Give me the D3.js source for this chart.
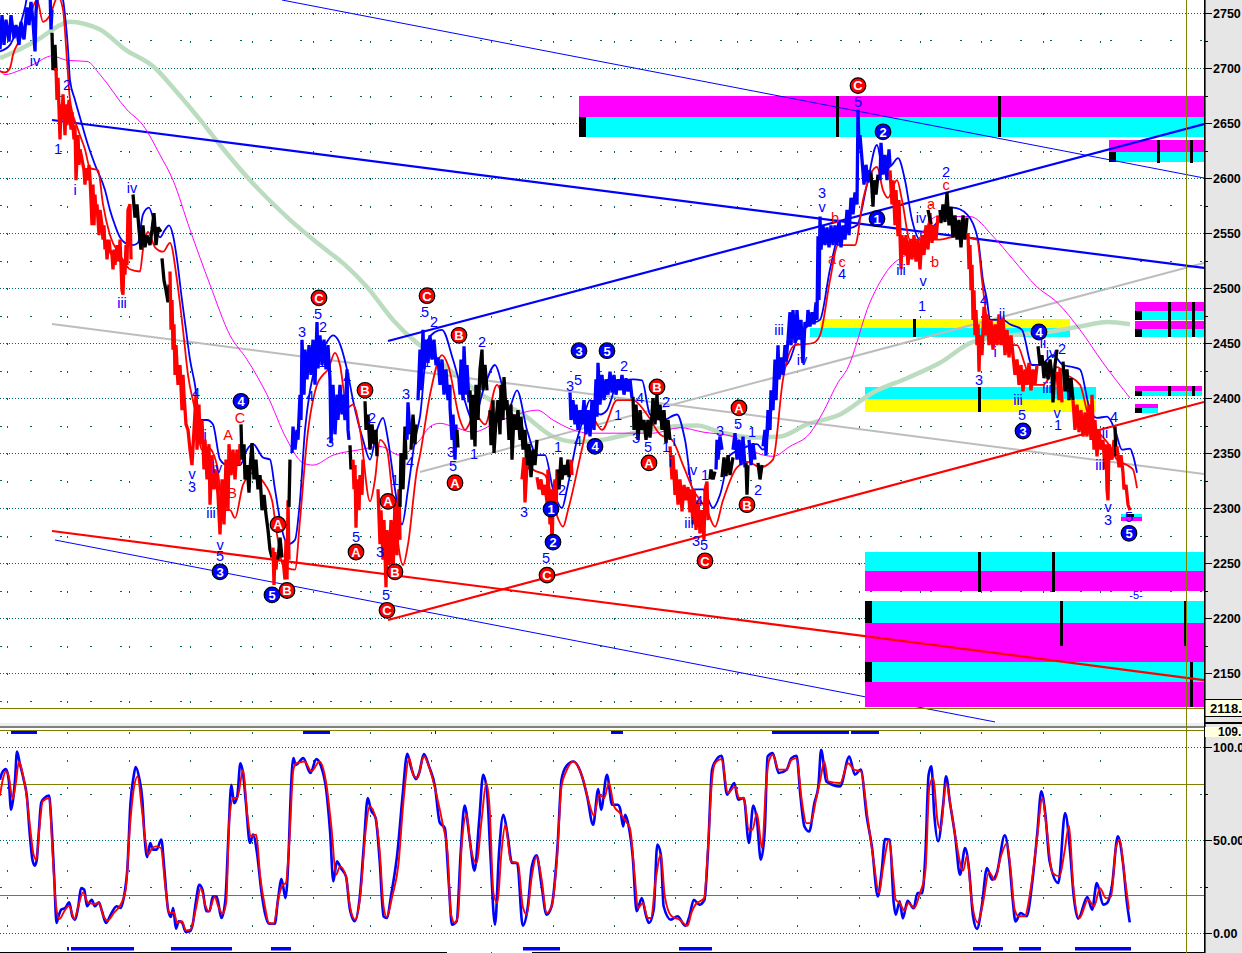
<!DOCTYPE html>
<html><head><meta charset="utf-8">
<style>html,body{margin:0;padding:0;background:#fff;overflow:hidden}svg{display:block}text{font-family:"Liberation Sans",Arial,sans-serif}</style>
<script src="https://cdn.jsdelivr.net/npm/d3@7/dist/d3.min.js"></script></head><body><svg id="c" width="1242" height="953"></svg>
<script>
// ---------- axis values ----------
const priceTicks=[2750,2700,2650,2600,2550,2500,2450,2400,2350,2300,2250,2200,2150];
const priceMinor=[2725,2675,2625,2575,2525,2475,2425,2375,2325,2275,2225,2175,2125];
const oscTicks=[100,50,0], oscLabels=["100.0","50.00","0.00"], oscLevels=[80,20], oscMinor=[75,25];
const gridBars=[7,67,129,190,252,313,370,431,491,553,614,675,737,797,859,920,981,1043,1100];
const cursorBar=1186, lastPrice="2118.", lastOsc="109.";
// ---------- price runs [bar, price] ----------
const blueA=[[0,2717],[2,2748],[4,2721],[6,2744],[9,2724],[11,2748],[14,2727],[16,2739],[19,2721],[21,2742],[24,2726],[27,2755],[29,2739],[31,2760],[33,2742],[35,2715],[36,2751],[38,2771],[50,2771],[51,2735],[52,2753]];
const blackB=[[52,2732],[53,2698],[55,2721],[56,2697]];
const redC=[[56,2700],[57,2671],[58,2691],[60,2635],[61,2667],[62,2653],[63,2676],[65,2639],[66,2667],[67,2648],[69,2671],[71,2644],[72,2660],[74,2635],[75,2648],[76,2598],[78,2639],[79,2612],[80,2626],[82,2617],[84,2607],[85,2594],[86,2609],[88,2598],[89,2612],[90,2600],[91,2580],[92,2557],[93,2594],[94,2557],[95,2585],[96,2567],[97,2576],[99,2548],[100,2571],[102,2557],[103,2544],[104,2557],[105,2535],[106,2544],[107,2526],[109,2544],[110,2535],[112,2530],[113,2517],[114,2535],[115,2521],[117,2539],[119,2524],[120,2544],[122,2498],[123,2494],[124,2526],[125,2512],[126,2539],[127,2521],[128,2571],[130,2576],[131,2526]];
const blackD=[[133,2585],[135,2564],[137,2576],[139,2553],[141,2535],[143,2557],[145,2537],[147,2548],[150,2539],[152,2553],[154,2568],[156,2539],[158,2555],[161,2551]];
const blackD2=[[162,2527],[164,2507],[166,2498],[168,2487],[169,2503]];
const redE=[[170,2515],[171,2462],[172,2489],[173,2444],[174,2467],[175,2421],[176,2448],[178,2412],[180,2430],[182,2389],[183,2421],[184,2403],[186,2376],[188,2371],[190,2353],[192,2339],[194,2371],[196,2403],[197,2353],[199,2394],[200,2358],[202,2380],[204,2335],[205,2362],[207,2326],[209,2358],[210,2303],[212,2348],[214,2317],[216,2335],[218,2312],[220,2276],[222,2326],[224,2285],[226,2344],[228,2298],[229,2358],[231,2330],[233,2353],[235,2326],[237,2353],[239,2339],[240,2358]];
const blackF=[[241,2376],[242,2344],[244,2358],[245,2326],[247,2339],[249,2314],[250,2335],[252,2359],[254,2326],[256,2344],[258,2317],[260,2330],[262,2298],[264,2312],[266,2294],[268,2280],[270,2262],[272,2255]];
const redG=[[273,2264],[274,2230],[275,2260],[276,2244],[277,2257]];
const blackG=[[278,2253],[280,2273],[282,2255]];
const redG2=[[283,2253],[285,2235],[286,2271],[287,2235],[288,2307],[289,2253]];
const blackH=[[289,2301],[290,2344]];
const blueI=[[292,2350],[293,2374],[295,2353],[297,2371],[298,2362],[300,2403],[301,2380],[302,2453],[304,2403],[305,2444],[307,2417],[309,2448],[311,2421],[313,2453],[315,2412],[317,2469],[318,2427],[320,2457],[322,2430],[324,2453],[326,2426],[328,2448],[330,2417],[331,2359],[333,2412],[335,2367],[337,2403],[338,2380],[340,2412],[342,2385],[343,2403],[345,2380],[347,2426],[348,2371],[349,2362]];
const blackJ=[[350,2357],[351,2335]];
const redK=[[353,2344],[354,2317],[355,2339],[356,2282],[357,2326],[359,2298],[360,2330],[362,2312],[363,2344]];
const blackL=[[365,2397],[366,2371],[368,2385],[370,2353],[372,2376],[374,2358],[376,2371],[377,2347]];
const redM=[[378,2317],[380,2267],[381,2298],[383,2253],[384,2289],[386,2228],[387,2280],[389,2248],[391,2289],[393,2239],[395,2307],[397,2257],[399,2317],[400,2271]];
const blackN=[[400,2301],[401,2350],[403,2317],[405,2374],[406,2344]];
const blueO=[[407,2362],[408,2396],[410,2367]];
const blackO=[[411,2353],[413,2385],[415,2358],[416,2376]];
const blueP=[[418,2398],[420,2444],[421,2407],[423,2462],[424,2426],[426,2453],[428,2432],[430,2457],[432,2435],[434,2453],[436,2430],[438,2437],[440,2412],[442,2435],[444,2403],[446,2426],[448,2398],[450,2412],[450,2392],[452,2362],[453,2385],[455,2344],[456,2376]];
const blackQ=[[457,2371],[458,2355]];
const blueR=[[459,2417],[460,2403],[461,2435],[463,2398],[464,2447],[466,2403],[467,2430],[469,2396]];
const blackS=[[470,2407],[472,2362],[473,2403],[475,2356],[476,2412],[478,2380],[480,2426],[482,2444],[483,2407],[485,2430],[487,2407]];
const blackS2=[[490,2389],[491,2357],[493,2398],[494,2350],[496,2380],[498,2398],[500,2367],[501,2412],[503,2380],[504,2419],[506,2389],[507,2398],[509,2362],[511,2394],[512,2344],[514,2385],[516,2371],[518,2389],[520,2362],[521,2383],[523,2353],[525,2371],[527,2335],[529,2358],[531,2328],[533,2353],[535,2339],[537,2362]];
const redS=[[522,2326],[524,2346],[525,2305],[527,2339]];
const redT=[[537,2328],[539,2317],[541,2326],[543,2312],[545,2321],[547,2305],[548,2335],[550,2285],[551,2317],[552,2262],[553,2303],[555,2326],[556,2294],[557,2335]];
const blackU=[[558,2335],[559,2317],[561,2346],[562,2326],[564,2339],[566,2330],[568,2344],[569,2328],[570,2339]];
const redU=[[571,2344],[572,2330]];
const blueV=[[570,2405],[571,2380],[573,2398],[575,2376],[576,2394],[578,2371],[580,2389],[582,2376],[584,2398],[586,2367],[588,2389],[590,2365],[592,2398],[594,2371],[596,2417],[597,2383],[598,2432],[600,2394],[602,2421],[604,2398],[606,2417],[608,2403],[610,2424],[612,2405],[614,2421],[616,2403],[618,2417],[620,2407],[622,2421],[624,2403],[626,2418],[628,2406],[630,2417],[632,2400]];
const blackW=[[633,2401],[634,2371],[636,2394],[638,2362],[640,2389],[642,2371],[644,2380],[646,2362],[648,2380],[650,2364],[652,2385],[653,2400],[655,2376],[657,2403],[658,2380],[660,2394],[662,2371],[664,2389],[666,2359],[668,2380],[670,2362]];
const redX=[[670,2356],[672,2326],[673,2348],[675,2312],[676,2335],[678,2303],[680,2326],[682,2297],[684,2321],[686,2307],[688,2319],[690,2296],[691,2317],[693,2285],[694,2317],[696,2280],[698,2307],[700,2277],[702,2298],[704,2271],[705,2317],[707,2324],[708,2289]];
const blackY=[[710,2326],[711,2335],[713,2326],[715,2333]];
const blueZ=[[716,2335],[717,2362],[718,2344],[720,2365],[722,2353]];
const blackAA=[[722,2328],[724,2346],[726,2329],[728,2348],[730,2330],[733,2346]];
const blueAB=[[733,2353],[735,2368],[737,2344],[739,2362],[741,2339],[743,2365],[745,2337]];
const blackAC=[[746,2341],[747,2312],[748,2339]];
const blueAD=[[749,2362],[751,2339],[753,2359],[755,2344]];
const blackAE=[[758,2341],[760,2326],[762,2339]];
const blueAF=[[763,2356],[765,2371],[766,2348],[768,2389],[770,2371],[771,2407],[773,2389],[775,2435],[776,2398],[778,2448],[779,2417],[781,2437],[783,2421],[785,2448],[786,2433],[788,2453],[790,2478],[791,2448],[793,2480],[795,2450],[797,2480],[799,2453],[801,2471],[803,2432],[805,2469],[807,2465],[808,2480],[810,2465],[812,2478],[814,2467],[816,2487],[817,2471],[818,2547],[819,2489],[820,2565],[821,2535],[823,2557],[825,2539],[827,2555],[829,2537],[831,2557],[833,2539],[835,2557],[837,2539],[839,2562],[841,2537],[843,2557],[845,2544],[847,2571],[849,2548],[851,2582],[853,2567],[855,2587],[857,2576],[858,2662],[859,2626],[860,2639],[862,2617],[864,2594],[866,2612],[868,2596],[870,2607]];
const blackAG=[[871,2605],[873,2574],[874,2598],[876,2585],[878,2603]];
const blueAH=[[880,2598],[881,2632],[883,2603],[885,2621],[887,2598],[889,2626],[890,2612]];
const redAI=[[890,2607],[892,2576],[893,2598],[895,2557],[896,2589],[898,2547],[899,2580],[901,2517],[902,2548],[904,2530],[906,2548],[908,2521],[910,2544],[912,2526],[914,2548],[916,2524],[918,2544],[920,2517],[922,2548],[924,2530],[926,2557],[928,2535],[930,2568],[932,2541],[934,2557],[936,2544],[938,2566]];
const blackAJ=[[928,2571],[931,2558]];
const blackAK=[[940,2571],[941,2559],[943,2576],[945,2560],[947,2587],[949,2557],[951,2574],[953,2546],[955,2566],[957,2544],[959,2562],[961,2537],[963,2566],[965,2544],[967,2564]];
const redAL=[[968,2550],[969,2517],[970,2539],[971,2498],[972,2521],[973,2471],[974,2498],[975,2457],[976,2480],[977,2448],[978,2467],[979,2424],[980,2457],[982,2439],[984,2483],[985,2457],[987,2476],[989,2448],[991,2471],[993,2444],[995,2467],[997,2448],[999,2476],[1001,2448],[1003,2473],[1005,2439],[1007,2462],[1009,2437],[1011,2457],[1013,2439],[1015,2421],[1017,2435],[1019,2412],[1021,2430],[1023,2406],[1025,2426],[1027,2412],[1029,2432],[1031,2407],[1033,2426],[1035,2412],[1037,2430]];
const blackAM=[[1038,2447],[1040,2430],[1042,2439],[1044,2418],[1046,2433],[1048,2417],[1050,2435],[1052,2421],[1053,2396],[1055,2430],[1057,2444]];
const redAN=[[1057,2424],[1059,2398],[1060,2427],[1062,2396]];
const blackAO=[[1063,2433],[1065,2406],[1067,2426],[1069,2398],[1071,2418],[1073,2398]];
const redAP=[[1073,2398],[1075,2371],[1077,2394],[1079,2369],[1081,2389],[1083,2365],[1085,2387],[1087,2365],[1089,2394],[1091,2362],[1092,2403],[1094,2353],[1095,2380],[1097,2347],[1099,2371],[1101,2353],[1103,2362],[1105,2335],[1106,2358],[1107,2317],[1108,2307],[1109,2358],[1112,2344],[1114,2362]];
const blackAQ=[[1115,2374],[1116,2347]];
const redAR=[[1117,2356],[1119,2337],[1121,2348],[1123,2332],[1124,2317],[1126,2321],[1128,2303],[1130,2298]];
const BLUE="#0000ff",RED="#ff0000",BLACK="#000000";
const priceRuns=[[BLUE,blueA],[BLACK,blackB],[RED,redC],[BLACK,blackD],[BLACK,blackD2],[RED,redE],[BLACK,blackF],[RED,redG],[BLACK,blackG],[RED,redG2],[BLACK,blackH],[BLUE,blueI],[BLACK,blackJ],[RED,redK],[BLACK,blackL],[RED,redM],[BLACK,blackN],[BLUE,blueO],[BLACK,blackO],[BLUE,blueP],[BLACK,blackQ],[BLUE,blueR],[BLACK,blackS],[BLACK,blackS2],[RED,redS],[RED,redT],[BLACK,blackU],[RED,redU],[BLUE,blueV],[BLACK,blackW],[RED,redX],[BLACK,blackY],[BLUE,blueZ],[BLACK,blackAA],[BLUE,blueAB],[BLACK,blackAC],[BLUE,blueAD],[BLACK,blackAE],[BLUE,blueAF],[BLACK,blackAG],[BLUE,blueAH],[RED,redAI],[BLACK,blackAJ],[BLACK,blackAK],[RED,redAL],[BLACK,blackAM],[RED,redAN],[BLACK,blackAO],[RED,redAP],[BLACK,blackAQ],[RED,redAR]];
// ---------- envelope and averages ----------
const bandBlue=[[0,2715],[10,2721],[15,2730],[20,2739],[25,2755],[28,2767],[60,2767],[63,2762],[65,2748],[68,2717],[70,2689],[75,2671],[80,2655],[88,2630],[95,2612],[105,2589],[110,2571],[115,2557],[120,2546],[125,2541],[133,2539],[138,2541],[143,2567],[149,2573],[155,2557],[160,2546],[165,2553],[169,2557],[173,2548],[177,2526],[182,2489],[186,2462],[190,2435],[195,2412],[200,2380],[207,2380],[213,2376],[220,2344],[227,2339],[240,2339],[247,2353],[253,2358],[263,2346],[270,2344],[275,2317],[282,2280],[288,2267],[295,2271],[300,2307],[305,2371],[310,2407],[318,2435],[325,2448],[333,2457],[338,2453],[347,2426],[353,2398],[363,2362],[370,2344],[377,2371],[383,2382],[388,2362],[395,2317],[402,2285],[408,2317],[415,2362],[420,2383],[428,2453],[435,2460],[442,2462],[453,2435],[463,2403],[473,2380],[485,2412],[495,2430],[502,2412],[508,2389],[517,2407],[527,2371],[537,2348],[545,2348],[553,2317],[562,2300],[567,2317],[577,2362],[583,2380],[590,2398],[600,2385],[607,2389],[617,2412],[633,2417],[642,2416],[650,2385],[663,2380],[677,2385],[685,2362],[693,2317],[703,2317],[713,2300],[720,2312],[730,2348],[740,2353],[757,2358],[763,2353],[777,2417],[790,2435],[797,2453],[810,2467],[820,2471],[830,2517],[840,2551],[857,2557],[867,2594],[877,2630],[883,2607],[892,2612],[898,2618],[905,2598],[912,2562],[920,2544],[930,2553],[940,2562],[953,2573],[967,2567],[978,2544],[983,2507],[987,2489],[990,2471],[1003,2471],[1010,2467],[1022,2462],[1032,2430],[1040,2430],[1053,2439],[1063,2430],[1073,2428],[1080,2426],[1090,2389],[1097,2382],[1107,2383],[1115,2371],[1122,2353],[1130,2354],[1133,2348],[1137,2332]];
const bandRed=[[0,2697],[5,2696],[10,2700],[13,2712],[20,2726],[30,2748],[37,2762],[43,2742],[50,2748],[58,2765],[63,2753],[67,2707],[70,2671],[78,2644],[85,2626],[90,2609],[98,2607],[103,2576],[110,2548],[120,2530],[130,2517],[140,2515],[143,2535],[148,2551],[155,2537],[163,2533],[170,2541],[177,2507],[183,2462],[188,2421],[195,2389],[202,2353],[208,2355],[217,2339],[223,2298],[230,2298],[235,2291],[243,2321],[253,2332],[263,2324],[272,2307],[277,2276],[283,2248],[295,2244],[300,2289],[307,2362],[317,2412],[323,2421],[328,2426],[335,2441],[340,2430],[347,2391],[353,2394],[360,2371],[370,2306],[375,2326],[380,2362],[387,2353],[393,2307],[403,2248],[408,2267],[417,2335],[420,2348],[430,2403],[442,2439],[448,2430],[460,2380],[465,2371],[475,2385],[485,2376],[497,2412],[507,2389],[520,2380],[533,2335],[545,2330],[555,2298],[563,2283],[568,2298],[583,2358],[590,2385],[602,2371],[617,2398],[633,2398],[647,2385],[660,2367],[672,2362],[683,2339],[693,2317],[707,2298],[715,2283],[723,2307],[737,2337],[748,2342],[760,2337],[773,2344],[783,2417],[795,2448],[813,2450],[820,2457],[830,2507],[838,2539],[855,2539],[863,2580],[877,2610],[883,2589],[888,2582],[897,2598],[902,2580],[910,2544],[923,2544],[940,2544],[957,2547],[977,2544],[982,2507],[987,2471],[993,2453],[1010,2448],[1017,2448],[1025,2430],[1032,2412],[1043,2412],[1057,2428],[1067,2421],[1080,2412],[1088,2385],[1097,2371],[1110,2356],[1117,2344],[1127,2339],[1133,2335],[1137,2318]];
const avgMagenta=[[0,2698],[5,2694],[20,2698],[33,2703],[52,2711],[67,2707],[87,2706],[100,2694],[127,2662],[143,2648],[160,2621],[173,2598],[190,2553],[210,2503],[230,2457],[247,2435],[267,2403],[287,2362],[303,2341],[313,2339],[333,2348],[360,2353],[380,2356],[400,2348],[420,2362],[430,2374],[440,2377],[453,2374],[473,2369],[497,2378],[517,2385],[537,2389],[553,2380],[573,2371],[590,2368],[620,2368],[653,2368],[680,2373],[703,2369],[733,2365],[757,2350],[773,2347],[790,2356],[810,2368],[823,2387],[838,2414],[847,2426],[870,2487],[890,2519],[910,2533],[937,2565],[970,2565],[993,2547],[1013,2526],[1037,2501],[1057,2487],[1080,2462],[1103,2432],[1130,2400]];
const avgGreen=[[0,2709],[20,2717],[40,2727],[60,2739],[70,2742],[85,2740],[100,2735],[125,2717],[155,2700],[175,2680],[200,2653],[220,2630],[250,2598],[290,2562],[320,2539],[345,2521],[367,2501],[393,2471],[417,2450],[430,2441],[453,2423],[487,2400],[520,2387],[553,2365],[577,2360],[603,2362],[633,2368],[673,2374],[697,2375],[720,2369],[753,2364],[780,2365],[807,2376],[840,2385],[873,2405],[907,2418],[940,2432],[973,2451],[1013,2457],[1047,2460],[1080,2465],[1107,2469],[1130,2467]];
// ---------- trend lines [bar, price, bar, price] ----------
const trendBlueThick=[[52,2652.7,1204,2518.2],[388,2451.8,1204,2649]];
const trendBlueThin=[[282,2761.8,1204,2600]];
const trendBlueLow=[[55,2270.9,995,2105.5]];
const trendGray=[[52,2467.3,1204,2330.9],[420,2332.7,1204,2522.7]];
const trendRed=[[52,2279.1,1204,2143.6],[388,2198.2,1204,2396.4]];
// ---------- price zones [bar0, bar1, priceTop, priceBottom] ----------
const zonesMagenta=[[579,1204,2674.5,2655.5],[1109,1204,2634.5,2623.6],[1135,1204,2487.3,2479.1],[1135,1204,2470,2462.7],[1135,1202,2410.9,2406.4],[1135,1158,2394.5,2390.9],[1045,1092,2392.7,2389.1],[1121,1142,2291.8,2288.2],[865,1204,2242.7,2224.5],[865,1204,2195.5,2160],[865,1204,2141.8,2119.1]];
const zonesCyan=[[579,1204,2655.5,2637.3],[1109,1204,2623.6,2614.5],[1135,1204,2479.1,2470.9],[1135,1204,2462.7,2455.5],[810,1070,2463.6,2455.5],[865,1096,2410,2399.1],[1135,1202,2406.4,2401.8],[1135,1158,2390.9,2386.4],[1045,1092,2394.5,2392.7],[1121,1142,2294.5,2291.8],[865,1204,2260,2242.7],[865,1204,2215.5,2195.5],[865,1204,2160,2141.8]];
const zonesYellow=[[820,1070,2471.8,2463.6],[865,1096,2399.1,2387.3]];
const markerBars=[[837,2674.5,2637.3],[999,2674.5,2637.3],[1158,2634.5,2613.6],[1191,2634.5,2613.6],[914,2471.8,2455.5],[1169,2487.3,2455.5],[1193,2487.3,2455.5],[979,2410,2387.3],[1169,2410.9,2401.8],[1193,2410.9,2401.8],[979,2260,2223.6],[1053,2260,2223.6],[1061,2215.5,2174.5],[1185,2215.5,2174.5],[1191,2160,2119.1]];
const markerBoxes=[[579,586,2655.5,2637.3],[1109,1116,2623.6,2614.5],[1135,1142,2479.1,2470.9],[1135,1142,2462.7,2455.5],[1135,1142,2406.4,2401.8],[1135,1142,2390.9,2386.4],[1127,1134,2294.5,2291.8],[865,872,2215.5,2195.5],[865,872,2160,2141.8]];
// ---------- wave labels [bar, price, text] ----------
const waveBlue=[[35,2707,"iv"],[67,2685,"2"],[58,2627,"1"],[75,2589,"i"],[132,2591,"iv"],[122,2487,"iii"],[196,2405,"4"],[205,2367,"i"],[192,2331,"v"],[192,2319,"3"],[211,2296,"iii"],[217,2337,"iv"],[220,2267,"v"],[220,2257,"5"],[302,2460,"3"],[318,2477,"5"],[323,2465,"2"],[322,2433,"1"],[330,2360,"3"],[347,2418,"4"],[310,2402,"4"],[356,2274,"5"],[380,2260,"3"],[372,2382,"2"],[406,2404,"3"],[425,2478,"5"],[434,2469,"2"],[427,2433,"1"],[395,2326,"1"],[386,2221,"5"],[410,2342,"4"],[451,2351,"3"],[453,2338,"5"],[482,2451,"2"],[474,2349,"1"],[524,2297,"3"],[558,2356,"1"],[562,2317,"2"],[546,2255,"5"],[570,2411,"3"],[578,2417,"5"],[578,2361,"4"],[624,2429,"2"],[618,2385,"1"],[640,2400,"4"],[636,2364,"3"],[648,2356,"5"],[666,2397,"2"],[666,2356,"1"],[674,2361,"i"],[670,2342,"i"],[692,2335,"iv"],[689,2287,"iii"],[699,2307,"4"],[696,2270,"3"],[704,2267,"5"],[720,2370,"3"],[738,2377,"5"],[752,2369,"1"],[705,2330,"1"],[758,2317,"2"],[766,2358,"i"],[779,2462,"iii"],[802,2435,"iv"],[822,2587,"3"],[822,2574,"v"],[842,2513,"4"],[858,2669,"5"],[890,2615,"i"],[901,2517,"iii"],[923,2507,"v"],[921,2564,"iv"],[946,2606,"2"],[922,2484,"1"],[979,2417,"3"],[984,2489,"4"],[1002,2477,"ii"],[995,2442,"i"],[1018,2398,"iii"],[1022,2385,"5"],[1043,2450,"ii"],[1051,2441,"iv"],[1062,2445,"2"],[1047,2409,"iii"],[1057,2387,"v"],[1058,2376,"1"],[1068,2403,"i"],[1105,2368,"ii"],[1114,2383,"4"],[1100,2339,"iii"],[1108,2301,"v"],[1108,2289,"3"],[1129,2292,"5"]];
const waveRed=[[832,2527,"a"],[835,2564,"b"],[842,2524,"c"],[931,2577,"a"],[935,2524,"b"],[946,2594,"c"],[240,2382,"C"],[228,2367,"A"],[232,2314,"B"]];
const noteBlue=[[1136,2221,"-5-"]];
const circleBlue=[[241,2397,"4"],[220,2242,"3"],[272,2221,"5"],[579,2443,"3"],[607,2443,"5"],[595,2356,"4"],[551,2299,"1"],[553,2269,"2"],[877,2563,"1"],[883,2642,"2"],[1039,2460,"4"],[1023,2370,"3"],[1129,2277,"5"]];
const circleRed=[[319,2491,"C"],[365,2407,"B"],[356,2260,"A"],[278,2285,"A"],[287,2225,"B"],[388,2306,"A"],[395,2242,"B"],[387,2207,"C"],[427,2493,"C"],[459,2457,"B"],[455,2323,"A"],[547,2239,"C"],[649,2341,"A"],[657,2410,"B"],[747,2303,"B"],[739,2391,"A"],[705,2252,"C"],[858,2684,"C"]];
// ---------- oscillator [bar, value] ----------
const oscBlue=[[0,82.6],[5,86.2],[15,88.3],[22,82.6],[28,66.4],[33,71.8],[38,82.6],[43,97.8],[50,91.5],[60,82.6],[68,73.6],[75,53.9],[82,39.5],[88,36.3],[93,39.5],[98,53.9],[104,70],[112,72.7],[124,74],[130,59.2],[137,30.5],[143,5.4],[148,9],[155,12.6],[165,13.5],[175,16.5],[183,9],[190,7.2],[198,14.4],[205,24.2],[213,23.3],[220,14.4],[232,17.9],[240,14.4],[250,16.5],[258,11.7],[268,5.4],[280,9.9],[295,14.4],[305,13.5],[315,21.5],[322,34.1],[330,70],[338,84.4],[343,89.4],[352,83.5],[360,71.8],[365,53.9],[372,40.9],[380,48.5],[387,44.9],[396,44.9],[408,50.3],[415,35.9],[425,12.6],[432,8.6],[438,13.5],[445,2.3],[452,6.3],[460,5.7],[470,0.5],[480,0.9],[488,5.4],[495,16.2],[504,26],[512,23.3],[522,11.7],[530,11.7],[538,19.7],[548,19.7],[560,8.1],[570,17.9],[578,53.9],[585,79.9],[592,70],[600,73.6],[608,91.5],[615,85.3],[622,70],[632,48.5],[640,53],[650,43.1],[660,24.2],[670,10.8],[680,5],[695,5],[703,17.9],[712,29.1],[722,18.8],[730,43.1],[735,73.6],[742,94.2],[748,90.6],[767,94.2],[785,86.2],[800,93.7],[812,89.8],[825,77.2],[835,53.9],[843,27.8],[852,38.6],[862,35],[875,30.5],[885,12.6],[897,6.3],[910,19.7],[920,46.7],[930,72.7],[938,66.4],[950,61.9],[960,39.5],[970,9],[978,8.1],[990,21.5],[1005,43.1],[1018,73.6],[1030,96.6],[1040,88.9],[1052,82.9],[1060,86.2],[1072,96.4],[1085,89.8],[1100,79],[1112,59.6],[1125,56.5],[1135,26.9],[1143,4.5],[1155,6.3],[1165,43.1],[1175,68.7],[1188,50.3],[1200,33.6],[1212,61],[1222,85.3],[1232,75.4],[1240,43.1],[1252,4.5],[1262,43.1],[1273,63.7],[1283,53.9],[1295,37.7],[1308,37.7],[1322,3.9],[1335,14.4],[1345,35.9],[1357,41.8],[1370,25.1],[1382,9.9],[1395,14.4],[1410,46.7],[1420,82.6],[1432,89.8],[1450,92.4],[1472,84.4],[1485,73.6],[1500,58.3],[1513,77.5],[1520,66.4],[1535,85.3],[1548,69.1],[1562,69.1],[1568,67.3],[1576,57.4],[1581,63.7],[1590,57.4],[1600,41.3],[1610,11.7],[1623,18.8],[1633,9.9],[1641,5.4],[1653,12.6],[1662,47.6],[1671,42.2],[1678,14.4],[1696,7.2],[1713,9],[1733,3.9],[1743,9],[1754,17.9],[1768,15.3],[1781,17.9],[1790,44.9],[1800,88],[1808,92.4],[1824,95.5],[1838,74.5],[1856,80.8],[1866,71.8],[1880,72.7],[1893,48.5],[1904,68.7],[1913,61],[1923,39.5],[1933,55.6],[1940,95.1],[1953,96.9],[1968,86.2],[1988,88],[2000,94.2],[2013,95.5],[2023,73.6],[2033,57.4],[2045,54.7],[2058,70],[2068,79],[2075,98.7],[2088,81.7],[2123,79],[2146,95.1],[2160,85.3],[2175,88],[2190,62.8],[2203,46.7],[2218,19.7],[2228,34.1],[2236,50.6],[2248,50.3],[2258,16.2],[2263,9.9],[2273,17.1],[2281,7.9],[2293,17.4],[2308,13.3],[2318,21.5],[2330,21.5],[2338,43.1],[2346,85.3],[2353,89.8],[2360,64.6],[2370,49.4],[2383,70],[2390,84.4],[2400,70],[2413,52.1],[2425,31.4],[2438,45.8],[2448,34.1],[2458,9],[2468,2.2],[2480,14.4],[2493,35],[2506,28.7],[2518,32.3],[2538,52.6],[2550,37.7],[2558,17.9],[2565,6.2],[2578,10.8],[2593,9],[2608,28.7],[2620,53.9],[2630,76.3],[2640,64.6],[2651,38.6],[2673,26.9],[2690,64.6],[2703,43.1],[2711,21.5],[2723,7.7],[2746,19.4],[2758,12.6],[2770,26.9],[2786,15.3],[2796,16.2],[2808,25.1],[2823,52.1],[2836,37.7],[2846,16.2],[2853,5.7]];
const oscRed=[[0,74],[8,83.5],[15,87.1],[22,84.4],[32,72.2],[40,80.8],[48,92.4],[55,88],[65,77.2],[75,59.2],[85,42.2],[92,39.5],[100,57.4],[108,71],[125,72.7],[132,46.7],[142,14.4],[150,7.5],[165,12.6],[175,14.7],[188,7.5],[198,14.4],[210,21.9],[222,16.5],[240,15.6],[250,16.2],[262,9],[272,6.6],[288,10.8],[305,15.3],[318,23.3],[328,55.6],[338,77.2],[348,84.4],[358,68.2],[368,49.4],[375,42.2],[385,45.8],[395,46.7],[407,45.8],[418,25.1],[428,10.8],[440,11.1],[448,5.4],[460,6.3],[470,1.4],[482,1.8],[495,12.6],[508,24.2],[520,14.4],[528,11.7],[543,19.4],[552,14.4],[563,10.4],[572,16.2],[580,61],[590,72.7],[600,72.7],[615,88],[625,64.6],[635,52.1],[648,53],[658,30.5],[670,14.4],[680,5.4],[692,5],[705,19.7],[715,26],[723,26.9],[732,50.3],[742,88],[750,91.5],[770,92.4],[788,87.1],[808,92.4],[825,80.8],[838,57.4],[850,31.4],[860,35.9],[875,30.5],[885,14.4],[898,7.2],[912,21.5],[925,55.6],[935,68.2],[950,61.9],[960,44.9],[970,14.4],[978,8.6],[992,19.7],[1008,37.7],[1020,70],[1035,94.2],[1045,85.3],[1055,83.5],[1072,95.1],[1090,86.2],[1105,73.6],[1120,58.3],[1132,43.1],[1140,10.8],[1150,5.4],[1158,9],[1168,48.5],[1180,63.7],[1190,46.7],[1205,37.7],[1218,61],[1230,80.8],[1238,68.2],[1248,21.5],[1258,16.2],[1268,43.1],[1278,58.3],[1292,38.6],[1310,37.7],[1322,14.4],[1332,9.9],[1345,30.5],[1357,41.3],[1370,28.7],[1382,10.8],[1395,14.4],[1408,37.7],[1420,79],[1432,87.1],[1450,92.4],[1475,82.6],[1490,70],[1502,63.2],[1515,74.5],[1528,72.7],[1540,80.8],[1553,68.2],[1568,64.6],[1583,60.1],[1593,56.5],[1606,28.7],[1613,13.5],[1626,16.2],[1638,8.1],[1646,8.1],[1658,28.7],[1671,42.2],[1681,19.7],[1698,9],[1718,7.2],[1738,3.9],[1748,10.8],[1758,15.3],[1780,18.8],[1790,46.7],[1800,82.6],[1808,91.5],[1824,93.7],[1840,75.4],[1858,79],[1868,72.7],[1880,72.7],[1893,55.6],[1902,55.6],[1913,64.6],[1926,45.8],[1936,79],[1943,92.4],[1953,96],[1968,88],[1988,88],[2000,93.3],[2013,94.2],[2026,71.8],[2038,59.2],[2048,59.2],[2063,72.7],[2073,82.6],[2083,92.4],[2093,81.7],[2123,80.8],[2143,91.5],[2158,88],[2175,87.1],[2193,61],[2208,37.7],[2221,21.5],[2231,35],[2246,50],[2256,32.3],[2263,17.9],[2273,16.2],[2285,12.2],[2295,16.2],[2310,13.5],[2323,20.8],[2338,33.6],[2348,79],[2358,83.5],[2368,61],[2376,55.6],[2390,80.8],[2403,66.4],[2416,48.5],[2433,33.6],[2443,41.8],[2453,20.3],[2470,5.7],[2483,16.2],[2498,32.8],[2513,28.7],[2528,41.1],[2543,48.3],[2553,33.6],[2563,12.6],[2573,9],[2588,9],[2603,23.3],[2618,48.5],[2633,72.7],[2643,57.4],[2658,32.3],[2676,30.5],[2688,43.1],[2700,57.8],[2710,26.9],[2726,8.1],[2748,17.9],[2763,14.4],[2778,24.2],[2793,18.8],[2806,19.7],[2818,45.8],[2828,50.3],[2838,34.1],[2851,12.6]];
// signal strips [bar0, bar1]
const stripTop=[[11,37],[303,330],[435,436],[611,623],[772,849],[851,879]];
const stripBottom=[[67,69],[71,134],[171,232],[271,291],[523,560],[679,712],[973,1003],[1019,1041],[1075,1131]];

// ---------- drawing ----------
const W=1242,H=953,axisX=1204;
const svg=d3.select("#c");
const x=d3.scaleLinear().domain([0,W]).range([0,W]);
const y=d3.scaleLinear().domain([2750,2150]).range([13,673]);
const xOsc=d3.scaleLinear().domain([0,1568,3136]).range([0,620,1242]);
const yOsc=d3.scaleLinear().domain([0,100]).range([933,747.4]);
const TEAL="#006a60",OLIVE="#808000",BG="#e6e6e6";
const crisp=s=>s.attr("shape-rendering","crispEdges");

// panels clip
const defs=svg.append("defs");
defs.append("clipPath").attr("id","topClip").append("rect").attr("x",0).attr("y",0).attr("width",axisX).attr("height",723);
defs.append("clipPath").attr("id","lowClip").append("rect").attr("x",0).attr("y",730).attr("width",axisX).attr("height",223);
const pTop=svg.append("g").attr("clip-path","url(#topClip)");
const pLow=svg.append("g").attr("clip-path","url(#lowClip)");

// grid
const grid=(g,vals,sc,dash,w)=>g.selectAll(null).data(vals).join("line").attr("x1",0).attr("x2",axisX).attr("y1",d=>Math.round(sc(d))+.5).attr("y2",d=>Math.round(sc(d))+.5).attr("stroke",TEAL).attr("stroke-width",w).attr("stroke-dasharray",dash).call(crisp);
grid(pTop,priceTicks,y,"1 2",1);
grid(pTop,priceMinor,y,"2 28",1);
pTop.selectAll(null).data(gridBars).join("line").attr("x1",d=>x(d)+.5).attr("x2",d=>x(d)+.5).attr("y1",13).attr("y2",722).attr("stroke",TEAL).attr("stroke-dasharray","2 25.5").call(crisp);
grid(pLow,oscTicks,yOsc,"1 2",1);
grid(pLow,oscMinor,yOsc,"2 28",1);
pLow.selectAll(null).data(gridBars).join("line").attr("x1",d=>x(d)+.5).attr("x2",d=>x(d)+.5).attr("y1",732).attr("y2",953).attr("stroke",TEAL).attr("stroke-dasharray","2 25.5").call(crisp);

// low trend hidden by zones
const seg=(g,data,col,w)=>g.selectAll(null).data(data).join("line").attr("x1",d=>x(d[0])).attr("y1",d=>y(d[1])).attr("x2",d=>x(d[2])).attr("y2",d=>y(d[3])).attr("stroke",col).attr("stroke-width",w);
seg(pTop,trendBlueLow,BLUE,1);

// zones
const zone=(data,col)=>pTop.selectAll(null).data(data).join("rect").attr("x",d=>x(d[0])).attr("width",d=>x(d[1])-x(d[0])).attr("y",d=>y(d[2])).attr("height",d=>y(d[3])-y(d[2])).attr("fill",col).call(crisp);
zone(zonesMagenta,"#ff00ff");zone(zonesCyan,"#00ffff");zone(zonesYellow,"#ffff00");
pTop.selectAll(null).data(markerBars).join("line").attr("x1",d=>x(d[0])).attr("x2",d=>x(d[0])).attr("y1",d=>y(d[1])).attr("y2",d=>y(d[2])).attr("stroke","#000").attr("stroke-width",3).call(crisp);
zone(markerBoxes,"#000");

// averages and trend lines
const pathOf=d3.line().x(d=>x(d[0])).y(d=>y(d[1]));
const smoothOf=d3.line().x(d=>x(d[0])).y(d=>y(d[1])).curve(d3.curveMonotoneX);
pTop.append("path").attr("d",smoothOf(avgGreen)).attr("fill","none").attr("stroke","#bcdcc0").attr("stroke-width",4.5);
seg(pTop,trendGray,"#bdbdbd",2);
seg(pTop,trendBlueThin,BLUE,1);
seg(pTop,trendBlueThick,BLUE,2.2);
pTop.append("path").attr("d",smoothOf(avgMagenta)).attr("fill","none").attr("stroke","#ff00ff").attr("stroke-width",1);
pTop.append("path").attr("d",smoothOf(bandBlue)).attr("fill","none").attr("stroke",BLUE).attr("stroke-width",1.8);
pTop.append("path").attr("d",smoothOf(bandRed)).attr("fill","none").attr("stroke",RED).attr("stroke-width",1.8);
seg(pTop,trendRed,RED,2.2);

// price
pTop.selectAll(null).data(priceRuns).join("path").attr("d",d=>pathOf(d[1])).attr("fill","none").attr("stroke",d=>d[0]).attr("stroke-width",3.3).attr("stroke-linejoin","bevel");

// wave text
const words=(data,col,size)=>pTop.selectAll(null).data(data).join("text").attr("x",d=>x(d[0])).attr("y",d=>y(d[1])).attr("dy",".36em").attr("text-anchor","middle").attr("font-size",size).attr("fill",col).text(d=>d[2]);
words(waveBlue,BLUE,14.5);words(waveRed,RED,14.5);words(noteBlue,BLUE,11);
const badges=(data,col)=>{
 const g=pTop.selectAll(null).data(data).join("g").attr("transform",d=>`translate(${x(d[0])},${y(d[1])})`);
 g.append("circle").attr("r",7.8).attr("fill",col).attr("stroke","#000").attr("stroke-width",1.2);
 g.append("text").attr("dy",".37em").attr("text-anchor","middle").attr("font-size",13).attr("font-weight","bold").attr("fill","#fff").text(d=>d[2]);
};
badges(circleBlue,BLUE);badges(circleRed,RED);

// oscillator
const oLine=d3.line().x(d=>xOsc(d[0])).y(d=>yOsc(d[1])).curve(d3.curveMonotoneX);
pLow.selectAll(null).data(oscLevels).join("line").attr("x1",0).attr("x2",axisX).attr("y1",d=>yOsc(d)).attr("y2",d=>yOsc(d)).attr("stroke",OLIVE).call(crisp);
pLow.append("path").attr("d",oLine(oscBlue)).attr("fill","none").attr("stroke",BLUE).attr("stroke-width",2.6);
pLow.append("path").attr("d",oLine(oscRed)).attr("fill","none").attr("stroke",RED).attr("stroke-width",1.9);
svg.selectAll(null).data(stripTop).join("rect").attr("x",d=>x(d[0])).attr("width",d=>x(d[1])-x(d[0])).attr("y",731).attr("height",3).attr("fill",BLUE);
svg.selectAll(null).data(stripBottom).join("rect").attr("x",d=>x(d[0])).attr("width",d=>x(d[1])-x(d[0])).attr("y",947).attr("height",3.5).attr("fill",BLUE);
svg.append("line").attr("x1",0).attr("x2",447).attr("y1",952.5).attr("y2",952.5).attr("stroke","#000");
svg.append("line").attr("x1",532).attr("x2",axisX).attr("y1",952.5).attr("y2",952.5).attr("stroke","#000");

// separators
svg.append("rect").attr("x",0).attr("y",723).attr("width",axisX).attr("height",3).attr("fill","#eeeeee");
svg.append("rect").attr("x",0).attr("y",726).attr("width",axisX).attr("height",2).attr("fill","#808080");
svg.append("line").attr("x1",0).attr("x2",axisX).attr("y1",708.5).attr("y2",708.5).attr("stroke",OLIVE);
svg.append("line").attr("x1",0).attr("x2",axisX).attr("y1",730.5).attr("y2",730.5).attr("stroke",OLIVE);
svg.append("line").attr("x1",x(cursorBar)+.5).attr("x2",x(cursorBar)+.5).attr("y1",0).attr("y2",H).attr("stroke",OLIVE);

// axes
svg.append("rect").attr("x",axisX+1).attr("y",0).attr("width",W-axisX).attr("height",H).attr("fill",BG);
svg.append("rect").attr("x",axisX).attr("y",0).attr("width",1.6).attr("height",H).attr("fill","#000");
const styleAxis=g=>{g.select(".domain").remove();g.selectAll("line").attr("stroke","#000").attr("shape-rendering","crispEdges");g.selectAll("text").attr("font-size",12.5).attr("font-weight","bold").attr("fill","#000");};
svg.append("g").attr("transform",`translate(${axisX+1},0)`).call(d3.axisRight(y).tickValues(priceTicks).tickFormat(d3.format("d")).tickSize(7).tickPadding(1)).call(styleAxis);
svg.append("g").attr("transform",`translate(${axisX+1},0)`).call(d3.axisRight(y).tickValues(priceMinor).tickFormat("").tickSize(3)).call(styleAxis);
svg.append("g").attr("transform",`translate(${axisX+1},0)`).call(d3.axisRight(yOsc).tickValues(oscTicks).tickFormat((d,i)=>oscLabels[i]).tickSize(7).tickPadding(1)).call(styleAxis);
svg.append("g").attr("transform",`translate(${axisX+1},0)`).call(d3.axisRight(yOsc).tickValues(oscMinor).tickFormat("").tickSize(3)).call(styleAxis);
// value boxes
svg.append("rect").attr("x",axisX+1).attr("y",699.5).attr("width",W-axisX).attr("height",17).attr("fill","#ffffe1").attr("stroke","#000");
svg.append("text").attr("x",axisX+6).attr("y",y(2118)+5).attr("font-size",13).attr("font-weight","bold").text(lastPrice);
svg.append("rect").attr("x",axisX+1).attr("y",722).attr("width",W-axisX).attr("height",2).attr("fill","#000");
svg.append("rect").attr("x",axisX+1).attr("y",727).attr("width",W-axisX).attr("height",10).attr("fill","#ffffe1");
svg.append("text").attr("x",axisX+14).attr("y",736).attr("font-size",12).attr("font-weight","bold").text(lastOsc);
</script></body></html>
